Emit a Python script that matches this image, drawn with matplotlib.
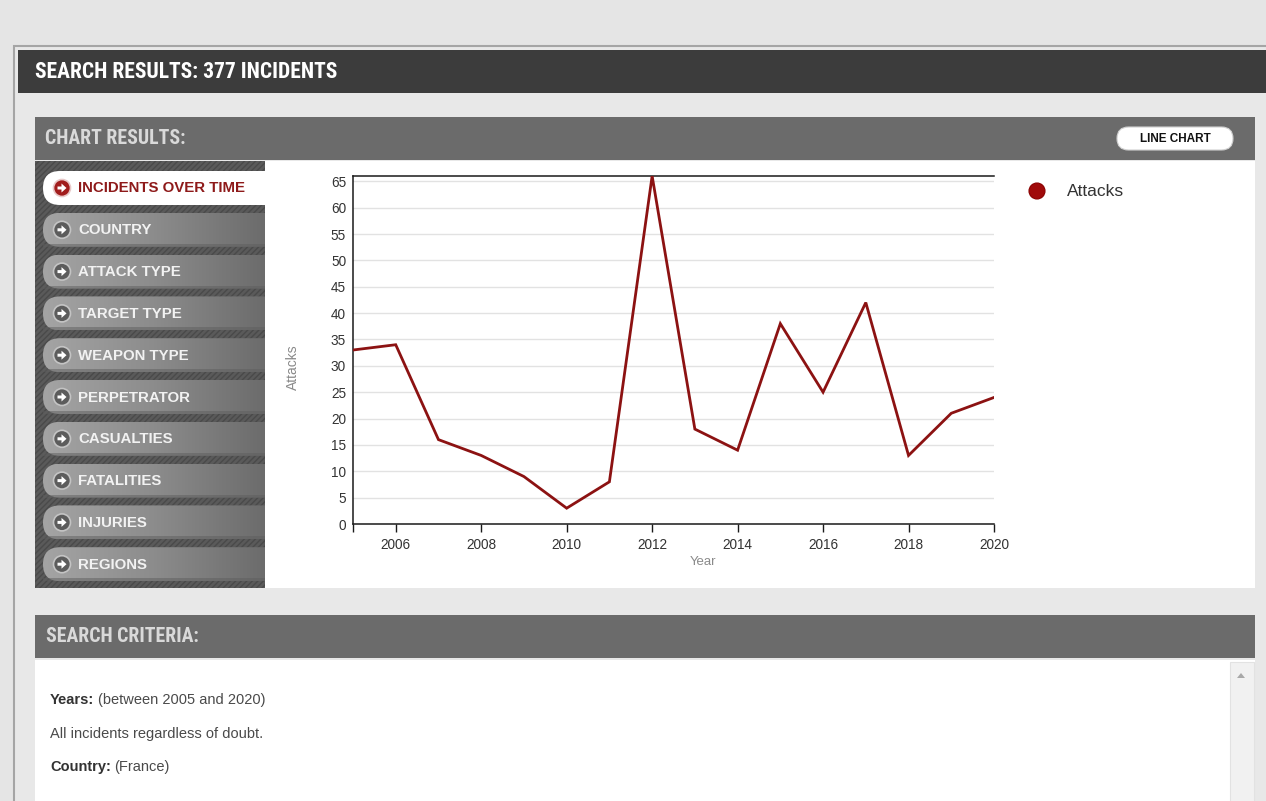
import numpy as np
import matplotlib
matplotlib.use("Agg")
import matplotlib.pyplot as plt
from matplotlib import font_manager
from matplotlib.patches import Rectangle, FancyBboxPatch, Circle, Polygon
from matplotlib.colors import LinearSegmentedColormap

# data
years = [2005, 2006, 2007, 2008, 2009, 2010, 2011, 2012,
         2013, 2014, 2015, 2016, 2017, 2018, 2019, 2020]
attacks = [33, 34, 16, 13, 9, 3, 8, 66, 18, 14, 38, 25, 42, 13, 21, 24]
x_ticks = [2006, 2008, 2010, 2012, 2014, 2016, 2018, 2020]
y_ticks = [0, 5, 10, 15, 20, 25, 30, 35, 40, 45, 50, 55, 60, 65]
menu_items = ["INCIDENTS OVER TIME", "COUNTRY", "ATTACK TYPE", "TARGET TYPE",
              "WEAPON TYPE", "PERPETRATOR", "CASUALTIES", "FATALITIES",
              "INJURIES", "REGIONS"]
criteria = [("Years:", "(between 2005 and 2020)"),
            ("", "All incidents regardless of doubt."),
            ("Country:", "(France)")]

#pick fonts that exist here
names = {f.name for f in font_manager.fontManager.ttflist}
narrow = next((n for n in ["Liberation Sans Narrow", "Roboto Condensed",
                           "Open Sans Condensed"] if n in names), "Liberation Sans")
plt.rcParams["font.family"] = ["Liberation Sans", "DejaVu Sans"]

W, H = 1266, 801
fig = plt.figure(figsize=(W / 100, H / 100), dpi=100)
fig.patch.set_facecolor("#e5e5e5")

#page drawn in pixel coordinates
bg = fig.add_axes([0, 0, 1, 1])
bg.set_xlim(0, W)
bg.set_ylim(H, 0)
bg.axis("off")

def box(x0, y0, x1, y1, color, **kw):
    bg.add_patch(Rectangle((x0, y0), x1 - x0, y1 - y0, facecolor=color, **kw))

# outer frame
box(14, 46, W + 5, H + 5, "#e8e8e8", edgecolor="#a5a5a5", lw=1.5)
# top header
box(18, 50, W + 5, 93, "#3c3c3c", lw=0)
bg.text(35, 72, "SEARCH RESULTS: 377 INCIDENTS", family=narrow, weight="bold",
        fontsize=15.5, color="white", va="center", ha="left")

# chart results header
box(35, 117, 1255, 160, "#6b6b6b", lw=0)
bg.text(45, 139, "CHART RESULTS:", family=narrow, weight="bold",
        fontsize=14.2, color="#d9d9d9", va="center", ha="left")
bg.add_patch(FancyBboxPatch((1117, 127), 116, 23,
                            boxstyle="round,pad=0,rounding_size=11.5",
                            facecolor="white", edgecolor="#d0d0d0", lw=0.8))
bg.text(1175, 139, "LINE CHART", weight="bold", fontsize=8.5, color="#111111",
        va="center", ha="center")

# sidebar with hatch
box(35, 161, 265, 588, "#5a5a5a", lw=0, hatch="//////", edgecolor="#4a4a4a")

grad = np.linspace(0, 1, 200).reshape(1, -1)
btn_cmap = LinearSegmentedColormap.from_list("btn", ["#a4a4a4", "#8c8c8c", "#6c6c6c"])
row_h = 41.8
for i, label in enumerate(menu_items):
    yc = 188 + i * row_h
    y0 = yc - 17
    active = i == 0
    p = FancyBboxPatch((43, y0), 250, 34, boxstyle="round,pad=0,rounding_size=17",
                       facecolor="white" if active else "none",
                       edgecolor="none", lw=0)
    bg.add_patch(p)
    if not active:
        im = bg.imshow(grad, extent=(43, 265, y0 + 34, y0), aspect="auto",
                       cmap=btn_cmap, interpolation="bilinear", zorder=1)
        im.set_clip_path(p)
        # darker lower edge
        box(43, y0 + 31, 265, y0 + 34, "#5e5e5e", lw=0, alpha=0.5, zorder=1.5)
        circ_col, rim, txt_col = "#5c5c5c", "#c4c4c4", "#f2f2f2"
    else:
        circ_col, rim, txt_col = "#a11c1c", "#e8c8c8", "#8e1a1a"
    bg.add_patch(Circle((62, yc), 8.5, facecolor=circ_col, edgecolor=rim,
                        lw=1.2, zorder=3))
    bg.add_patch(Polygon([(57.5, yc - 1.5), (61.5, yc - 1.5), (61.5, yc - 4.5),
                          (66.5, yc), (61.5, yc + 4.5), (61.5, yc + 1.5),
                          (57.5, yc + 1.5)], closed=True, facecolor="white",
                         edgecolor="none", zorder=4))
    bg.text(78, yc + 0.5, label, weight="bold", fontsize=10.8, color=txt_col,
            va="center", ha="left", zorder=4)

# white chart panel
box(265, 161, 1255, 588, "white", lw=0, zorder=2)

# legend
bg.add_patch(Circle((1037, 191), 8, facecolor="#a00a0a", edgecolor="#8a0000",
                    lw=0.8, zorder=3))
bg.text(1067, 191, "Attacks", fontsize=12.5, color="#333333", va="center",
        ha="left", zorder=3)

# search criteria block
box(35, 615, 1255, 658, "#6b6b6b", lw=0)
bg.text(46, 637, "SEARCH CRITERIA:", family=narrow, weight="bold",
        fontsize=14.2, color="#d9d9d9", va="center", ha="left")
box(35, 660, 1255, H + 5, "white", lw=0)
box(1230, 662, 1254, H + 5, "#f1f1f1", edgecolor="#e2e2e2", lw=0.8)
bg.add_patch(Polygon([(1237, 678), (1245, 678), (1241, 673)], closed=True,
                     facecolor="#a8a8a8", edgecolor="none"))

line_y = [700, 734, 767]
for (head, rest), yy in zip(criteria, line_y):
    if head:
        t = bg.text(50, yy, head, weight="bold", fontsize=10.5, color="#333333",
                    va="center", ha="left")
        bg.annotate(rest, xy=(1, 0), xycoords=t, xytext=(2.5, 0),
                    textcoords="offset points", va="bottom", ha="left",
                    fontsize=10.5, color="#4a4a4a")
    else:
        bg.text(50, yy, rest, fontsize=10.5, color="#4a4a4a", va="center", ha="left")

# the line chart
ax = fig.add_axes([353 / W, 277 / H, 641 / W, 348 / H])
ax.set_facecolor("none")
ax.plot(years, attacks, color="#8c1212", lw=2, solid_joinstyle="miter", zorder=3)
ax.set_xlim(2005, 2020)
ax.set_ylim(0, 66)
ax.set_xticks(x_ticks)
ax.set_xticks([2005], minor=True)
ax.set_yticks(y_ticks)
ax.yaxis.grid(True, color="#e2e2e2", lw=1)
ax.set_axisbelow(True)
for s in ["left", "bottom", "top"]:
    ax.spines[s].set_color("#1a1a1a")
    ax.spines[s].set_linewidth(1.1)
ax.spines["right"].set_visible(False)
ax.tick_params(axis="x", which="both", direction="out", length=6, width=1,
               color="#1a1a1a", labelsize=9.8, labelcolor="#333333", pad=4)
ax.tick_params(axis="y", length=0, labelsize=9.8, labelcolor="#333333", pad=5)
ax.set_xlabel("Year", fontsize=9.5, color="#8a8a8a", va="center")
ax.xaxis.set_label_coords(0.546, -0.109)
ax.set_ylabel("Attacks", fontsize=10, color="#8a8a8a", va="center")
ax.yaxis.set_label_coords(-0.094, 0.451)

fig.savefig("out.png", dpi=100)
